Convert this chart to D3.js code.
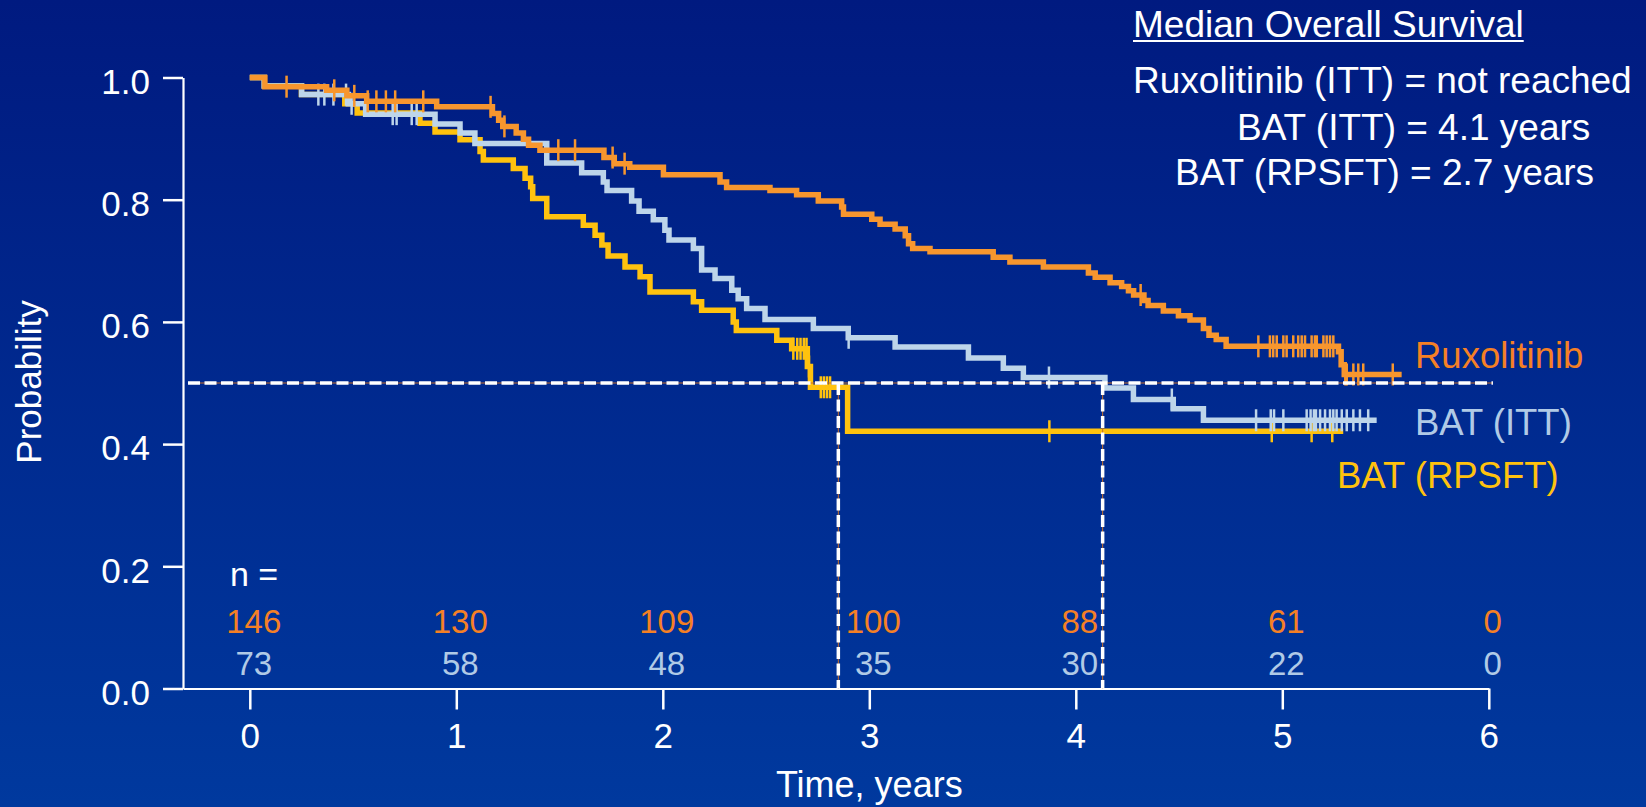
<!DOCTYPE html>
<html>
<head>
<meta charset="utf-8">
<script src="https://cdn.jsdelivr.net/npm/d3@7"></script>
<style>
	html, body { margin: 0; padding: 0; background: #001b82; }
	svg { display: block; }
	text { font-family: "Liberation Sans", Arial, sans-serif; }
</style>
</head>
<body>
<svg id="chart" width="1646" height="807"></svg>
<script>
// --- data ---
const years = [0, 1, 2, 3, 4, 5, 6];
const yTicks = [0, 0.2, 0.4, 0.6, 0.8, 1.0];

const atRiskRux = [146, 130, 109, 100, 88, 61, 0];
const atRiskBat = [73, 58, 48, 35, 30, 22, 0];

// [time, survival from that time on]
const ruxSteps = [
	[0, 1.0], [0.073, 0.985], [0.372, 0.979], [0.47, 0.970], [0.566, 0.961],
	[0.905, 0.952], [1.175, 0.941], [1.205, 0.930], [1.225, 0.920], [1.29, 0.909],
	[1.325, 0.899], [1.35, 0.889], [1.405, 0.881], [1.715, 0.869], [1.765, 0.859],
	[1.84, 0.853], [2.003, 0.841], [2.277, 0.829], [2.309, 0.820], [2.519, 0.815],
	[2.648, 0.808], [2.753, 0.798], [2.866, 0.788], [2.875, 0.776], [3.012, 0.768],
	[3.052, 0.760], [3.125, 0.752], [3.174, 0.741], [3.19, 0.728], [3.21, 0.720],
	[3.294, 0.715], [3.60, 0.706], [3.681, 0.698], [3.843, 0.690], [4.061, 0.680],
	[4.094, 0.673], [4.166, 0.664], [4.222, 0.658], [4.255, 0.651], [4.28, 0.644],
	[4.33, 0.635], [4.35, 0.627], [4.424, 0.618], [4.497, 0.610], [4.553, 0.603],
	[4.618, 0.589], [4.645, 0.578], [4.68, 0.571], [4.728, 0.560], [5.272, 0.551],
	[5.285, 0.530], [5.30, 0.514]
];
const ruxEnd = 5.578;
const ruxCensor = [
	0.178, 0.409, 0.506, 0.571, 0.613, 0.659, 0.704, 0.84, 1.166, 1.233, 1.494,
	1.575, 1.757, 1.815, 4.314, 4.884, 4.94, 4.956, 4.973, 5.005, 5.021, 5.053,
	5.077, 5.094, 5.11, 5.142, 5.158, 5.167, 5.199, 5.215, 5.231, 5.247, 5.305,
	5.312, 5.344, 5.368, 5.392, 5.535
];

const batSteps = [
	[0, 1.0], [0.07, 0.986], [0.251, 0.972], [0.477, 0.957], [0.561, 0.940],
	[0.897, 0.924], [1.018, 0.909], [1.09, 0.892], [1.438, 0.860], [1.607, 0.844],
	[1.712, 0.829], [1.73, 0.815], [1.849, 0.798], [1.885, 0.781], [1.954, 0.767],
	[2.01, 0.750], [2.03, 0.734], [2.148, 0.720], [2.188, 0.685], [2.253, 0.671],
	[2.334, 0.652], [2.365, 0.638], [2.406, 0.622], [2.495, 0.604], [2.729, 0.589],
	[2.898, 0.574], [3.125, 0.559], [3.48, 0.541], [3.649, 0.524], [3.746, 0.509],
	[4.141, 0.492], [4.279, 0.473], [4.472, 0.458], [4.618, 0.439]
];
const batEnd = 5.457;
const batCensor = [
	0.332, 0.361, 0.405, 0.466, 0.493, 0.692, 0.711, 0.784, 0.808, 2.90, 3.87,
	4.465, 4.873, 4.944, 4.96, 5.005, 5.118, 5.137, 5.153, 5.163, 5.183, 5.207,
	5.231, 5.247, 5.263, 5.288, 5.312, 5.344, 5.376, 5.416
];

const rpsftSteps = [
	[0, 1.0], [0.07, 0.986], [0.25, 0.972], [0.46, 0.957], [0.52, 0.942],
	[0.824, 0.925], [0.897, 0.911], [1.018, 0.898], [1.115, 0.879], [1.131, 0.865],
	[1.276, 0.851], [1.333, 0.835], [1.36, 0.821], [1.37, 0.802], [1.438, 0.772],
	[1.615, 0.758], [1.672, 0.742], [1.705, 0.726], [1.735, 0.708], [1.817, 0.690],
	[1.89, 0.674], [1.938, 0.649], [2.148, 0.633], [2.188, 0.619], [2.341, 0.600],
	[2.356, 0.586], [2.552, 0.570], [2.624, 0.556], [2.70, 0.527], [2.715, 0.493],
	[2.895, 0.421]
];
const rpsftEnd = 5.295;
const rpsftCensor = [
	2.632, 2.651, 2.667, 2.683, 2.696, 2.708, 2.765, 2.78, 2.795, 2.81, 3.872,
	4.949, 5.142, 5.242
];

const medianLevel = 0.5;
const medianTimes = [2.85, 4.13];

const summaryTitle = 'Median Overall Survival';
const summaryLines = [
	'Ruxolitinib (ITT) = not reached',
	'BAT (ITT) = 4.1 years',
	'BAT (RPSFT) = 2.7 years'
];

// --- colours ---
const ORANGE = '#f7962e';
const ORANGE_TXT = '#f58025';
const BLUE = '#bdd5ea';
const BLUE_TXT = '#b0cae6';
const YELLOW = '#ffc20e';

const svg = d3.select('#chart');

let defs = svg.append('defs');
let grad = defs.append('linearGradient')
	.attr('id', 'bg')
	.attr('x1', 0).attr('y1', 0)
	.attr('x2', 0).attr('y2', 1);
grad.append('stop').attr('offset', '0%').attr('stop-color', '#001a80');
grad.append('stop').attr('offset', '100%').attr('stop-color', '#00399e');

svg.append('rect')
	.attr('width', 1646)
	.attr('height', 807)
	.attr('fill', 'url(#bg)');

// y axis sits at t = -0.3235
let x = d3.scaleLinear().domain([-0.3235, 6]).range([183, 1488.8]);
let y = d3.scaleLinear().domain([0, 1]).range([688.5, 77.5]);

// axes
let yAxis = svg.append('g')
	.attr('transform', 'translate(' + x.range()[0] + ',0)')
	.call(
		d3.axisLeft(y)
			.tickValues(yTicks)
			.tickFormat(d3.format('.1f'))
			.tickSize(20)
			.tickSizeOuter(0)
			.tickPadding(13)
	);

let xAxis = svg.append('g')
	.attr('transform', 'translate(0,' + y(0) + ')')
	.call(
		d3.axisBottom(x)
			.tickValues(years)
			.tickFormat(d3.format('d'))
			.tickSize(21)
			.tickSizeOuter(0)
			.tickPadding(14)
	);

[yAxis, xAxis].forEach(function(g) {
	g.select('.domain').attr('stroke', '#fff').attr('stroke-width', 2.2);
	g.selectAll('.tick line').attr('stroke', '#fff').attr('stroke-width', 2.5);
	g.selectAll('.tick text')
		.attr('fill', '#fff')
		.style('font-size', '35px')
		.style('font-family', '"Liberation Sans", Arial, sans-serif');
});
yAxis.selectAll('.tick text').attr('dy', '0.45em');

svg.append('text')
	.attr('transform', 'translate(41,382) rotate(-90)')
	.attr('text-anchor', 'middle')
	.attr('fill', '#fff')
	.style('font-size', '35px')
	.text('Probability');

svg.append('text')
	.attr('x', x(3))
	.attr('y', 797)
	.attr('text-anchor', 'middle')
	.attr('fill', '#fff')
	.style('font-size', '36px')
	.text('Time, years');

// survival curves
function survivalAt(steps, t) {
	let p = steps[0][1];
	steps.forEach(function(s) {
		if (s[0] <= t) {
			p = s[1];
		}
	});
	return p;
}

let stepLine = d3.line()
	.x(function(d) { return x(d[0]); })
	.y(function(d) { return y(d[1]); })
	.curve(d3.curveStepAfter);

let curves = [
	{steps: rpsftSteps, end: rpsftEnd, censor: rpsftCensor, color: YELLOW},
	{steps: batSteps, end: batEnd, censor: batCensor, color: BLUE},
	{steps: ruxSteps, end: ruxEnd, censor: ruxCensor, color: ORANGE}
];

curves.forEach(function(c) {
	let pts = c.steps.concat([[c.end, c.steps[c.steps.length - 1][1]]]);

	svg.append('path')
		.datum(pts)
		.attr('d', stepLine)
		.attr('fill', 'none')
		.attr('stroke', c.color)
		.attr('stroke-width', 5.5)
		.attr('stroke-linejoin', 'miter')
		.attr('stroke-linecap', 'butt');

	svg.append('g')
		.selectAll('line')
		.data(c.censor)
		.enter()
		.append('line')
		.attr('x1', function(t) { return x(t); })
		.attr('x2', function(t) { return x(t); })
		.attr('y1', function(t) { return y(survivalAt(c.steps, t)) - 11; })
		.attr('y2', function(t) { return y(survivalAt(c.steps, t)) + 11; })
		.attr('stroke', c.color)
		.attr('stroke-width', 2.5);
});

// median reference lines: thin orange line under white dashes
let medianSegs = [[[x.range()[0] + 5, y(medianLevel)], [x(6.02), y(medianLevel)]]];
medianTimes.forEach(function(t) {
	medianSegs.push([[x(t), y(medianLevel)], [x(t), y(0)]]);
});

medianSegs.forEach(function(s) {
	svg.append('line')
		.attr('x1', s[0][0]).attr('y1', s[0][1])
		.attr('x2', s[1][0]).attr('y2', s[1][1])
		.attr('stroke', '#c8702a')
		.attr('stroke-width', 1);
	svg.append('line')
		.attr('x1', s[0][0]).attr('y1', s[0][1])
		.attr('x2', s[1][0]).attr('y2', s[1][1])
		.attr('stroke', '#fff')
		.attr('stroke-width', 3.5)
		.attr('stroke-dasharray', '12,4.5');
});

// series labels
svg.append('text')
	.attr('x', 1415).attr('y', 368)
	.attr('fill', ORANGE_TXT)
	.style('font-size', '36.5px')
	.text('Ruxolitinib');
svg.append('text')
	.attr('x', 1415).attr('y', 435)
	.attr('fill', BLUE_TXT)
	.style('font-size', '36.5px')
	.text('BAT (ITT)');
svg.append('text')
	.attr('x', 1337).attr('y', 488)
	.attr('fill', YELLOW)
	.style('font-size', '36.5px')
	.text('BAT (RPSFT)');

// numbers at risk
svg.append('text')
	.attr('x', 230).attr('y', 586)
	.attr('fill', '#fff')
	.style('font-size', '34px')
	.text('n =');

svg.append('g')
	.selectAll('text')
	.data(years)
	.enter()
	.append('text')
	.attr('x', function(d) { return x(d) + 4; })
	.attr('y', 633)
	.attr('text-anchor', 'middle')
	.attr('fill', ORANGE_TXT)
	.style('font-size', '33px')
	.text(function(d, i) { return atRiskRux[i]; });

svg.append('g')
	.selectAll('text')
	.data(years)
	.enter()
	.append('text')
	.attr('x', function(d) { return x(d) + 4; })
	.attr('y', 675)
	.attr('text-anchor', 'middle')
	.attr('fill', BLUE_TXT)
	.style('font-size', '33px')
	.text(function(d, i) { return atRiskBat[i]; });

// median summary block
let title = svg.append('text')
	.attr('x', 1133).attr('y', 36.5)
	.attr('fill', '#fff')
	.style('font-size', '37px')
	.text(summaryTitle);

let titleLen = title.node().getComputedTextLength();
svg.append('line')
	.attr('x1', 1133).attr('x2', 1133 + titleLen)
	.attr('y1', 41).attr('y2', 41)
	.attr('stroke', '#fff')
	.attr('stroke-width', 2);

let summaryX = [1133, 1237, 1175];
let summaryY = [93, 140, 185];
summaryLines.forEach(function(s, i) {
	svg.append('text')
		.attr('x', summaryX[i]).attr('y', summaryY[i])
		.attr('fill', '#fff')
		.style('font-size', '37px')
		.text(s);
});
</script>
</body>
</html>
